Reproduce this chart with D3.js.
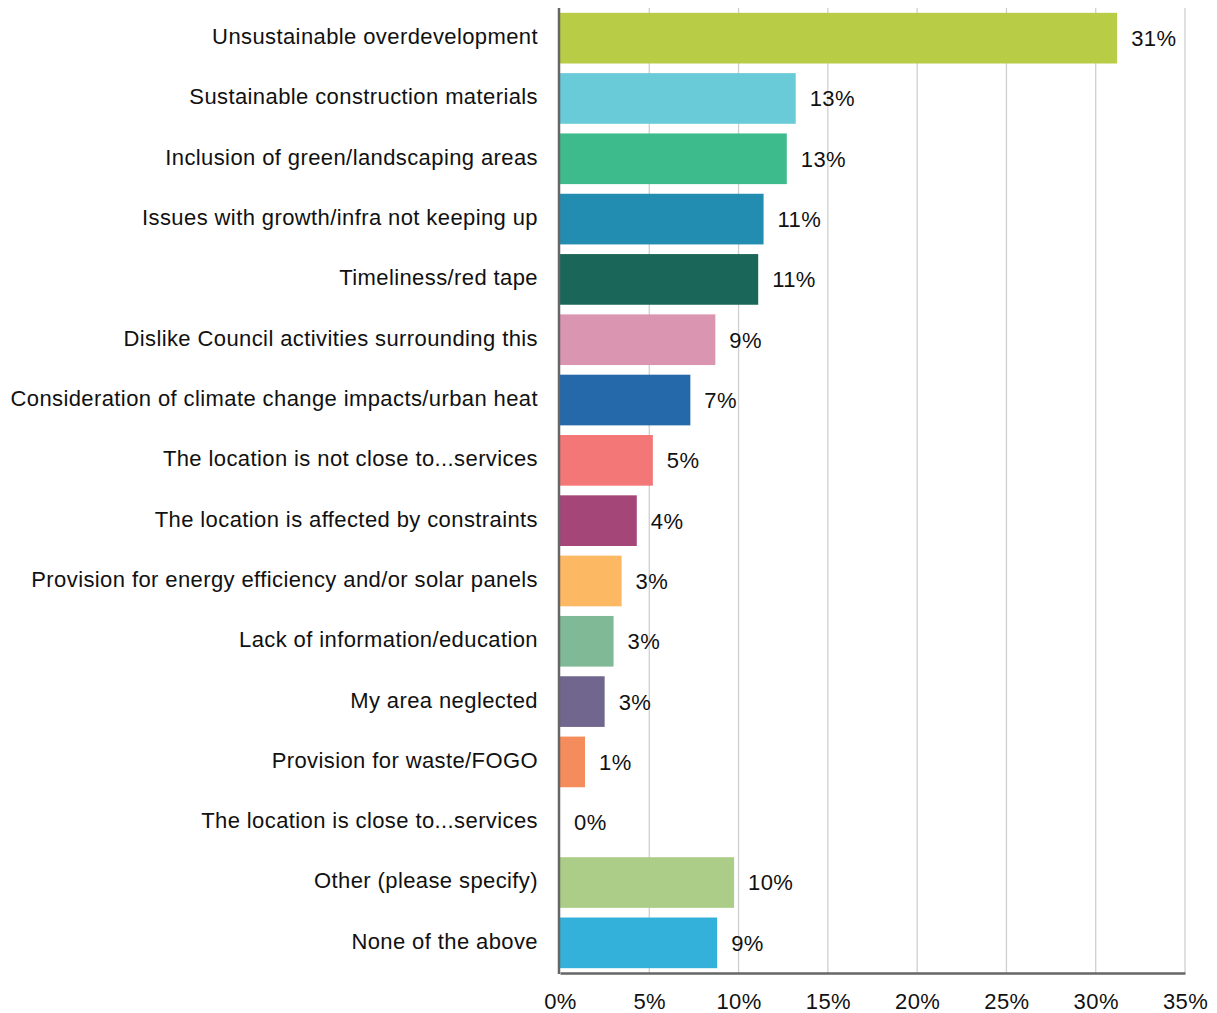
<!DOCTYPE html>
<html>
<head>
<meta charset="utf-8">
<script src="https://cdn.jsdelivr.net/npm/d3@7"></script>
<style>
  html, body { margin: 0; padding: 0; background: #fff; }
  svg text { font-family: "Liberation Sans", Arial, Helvetica, sans-serif; fill: #111; letter-spacing: 0.4px; }
</style>
</head>
<body>
<svg id="chart" width="1217" height="1013"></svg>
<script>
// Survey responses: share of respondents mentioning each theme
const categories = [
  "Unsustainable overdevelopment",
  "Sustainable construction materials",
  "Inclusion of green/landscaping areas",
  "Issues with growth/infra not keeping up",
  "Timeliness/red tape",
  "Dislike Council activities surrounding this",
  "Consideration of climate change impacts/urban heat",
  "The location is not close to...services",
  "The location is affected by constraints",
  "Provision for energy efficiency and/or solar panels",
  "Lack of information/education",
  "My area neglected",
  "Provision for waste/FOGO",
  "The location is close to...services",
  "Other (please specify)",
  "None of the above"
];
const values = [31.2, 13.2, 12.7, 11.4, 11.1, 8.7, 7.3, 5.2, 4.3, 3.45, 3.0, 2.5, 1.4, 0, 9.75, 8.8];
const barColors = [
  "#b8cc46", "#69cad8", "#3dbb8c", "#228db0", "#1a6658", "#da95b0",
  "#2569ab", "#f37777", "#a44677", "#fcb863", "#80b996", "#71668d",
  "#f58c5b", "#cccccc", "#accd87", "#34b1da"
];
const xTicks = [0, 5, 10, 15, 20, 25, 30, 35];

const svg = d3.select("#chart");
const plotLeft = 560, plotRight = 1185, plotTop = 8, plotBottom = 973;
const fontSize = 22;

const x = d3.scaleLinear().domain([0, 35]).range([plotLeft, plotRight]);
const y = d3.scaleBand().domain(categories).range([plotTop, plotBottom])
  .paddingInner(0.16).paddingOuter(0.08);

// vertical gridlines
svg.append("g").selectAll("line")
  .data(xTicks.slice(1))
  .join("line")
  .attr("x1", d => x(d)).attr("x2", d => x(d))
  .attr("y1", plotTop).attr("y2", plotBottom)
  .attr("stroke", "#cfcfcf").attr("stroke-width", 1.3);

// bars
svg.append("g").selectAll("rect")
  .data(categories)
  .join("rect")
  .attr("x", x(0))
  .attr("y", d => y(d))
  .attr("width", (d, i) => x(values[i]) - x(0))
  .attr("height", y.bandwidth())
  .attr("fill", (d, i) => barColors[i]);

// value labels
svg.append("g").selectAll("text")
  .data(categories)
  .join("text")
  .attr("x", (d, i) => x(values[i]) + 14)
  .attr("y", d => y(d) + y.bandwidth() / 2)
  .attr("dy", "0.36em")
  .attr("font-size", fontSize)
  .text((d, i) => Math.round(values[i]) + "%");

// category labels
svg.append("g").selectAll("text")
  .data(categories)
  .join("text")
  .attr("x", plotLeft - 22)
  .attr("y", d => y(d) + y.bandwidth() / 2 - 2)
  .attr("dy", "0.36em")
  .attr("text-anchor", "end")
  .attr("font-size", fontSize)
  .text(d => d);

// x axis
const xAxis = d3.axisBottom(x).tickValues(xTicks).tickFormat(d => d + "%").tickSize(0).tickPadding(20);
const gx = svg.append("g").attr("transform", `translate(0,${plotBottom})`).call(xAxis);
gx.select(".domain").attr("stroke", "#666").attr("stroke-width", 2.5);
gx.selectAll("text").attr("font-size", fontSize).attr("fill", "#111")
  .style("font-family", "Liberation Sans, Arial, sans-serif");

// y axis line
svg.append("line")
  .attr("x1", plotLeft - 1).attr("x2", plotLeft - 1)
  .attr("y1", plotTop).attr("y2", plotBottom + 1)
  .attr("stroke", "#666").attr("stroke-width", 2.5);
</script>
</body>
</html>
